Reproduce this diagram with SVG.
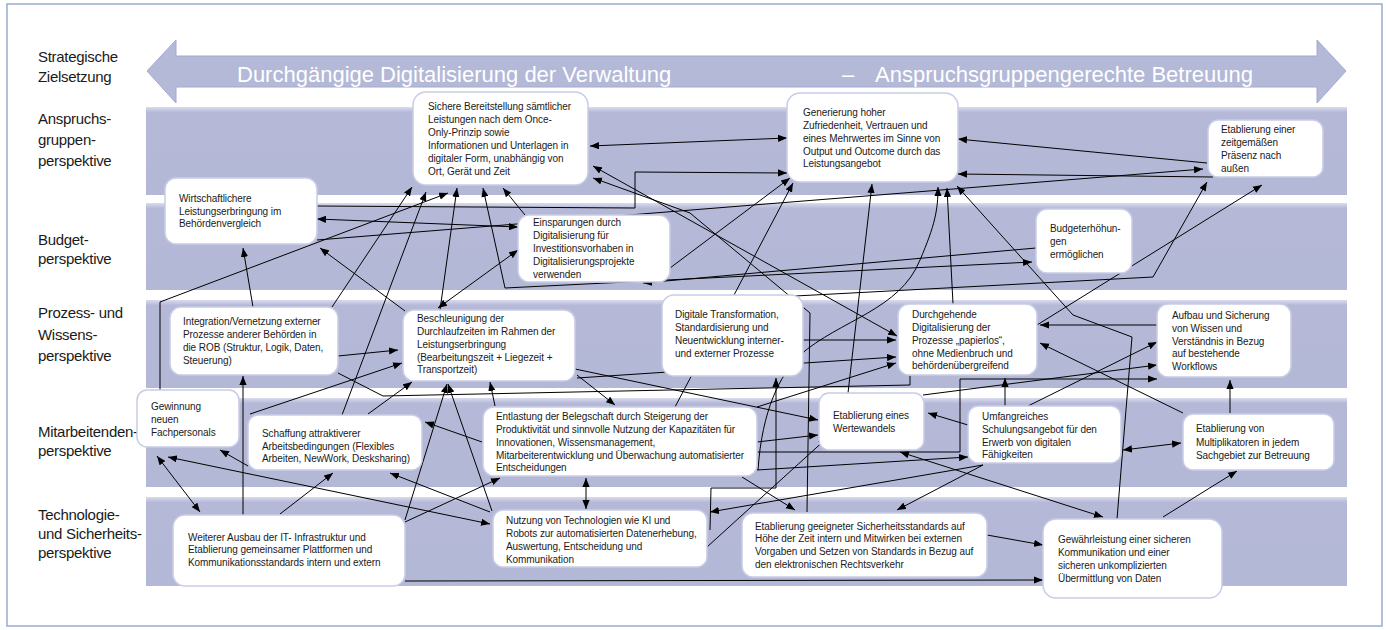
<svg xmlns="http://www.w3.org/2000/svg" width="1386" height="630" viewBox="0 0 1386 630">
<defs>
<marker id="ah" viewBox="0 0 10 8" refX="10" refY="4" markerWidth="9" markerHeight="7.5" markerUnits="userSpaceOnUse" orient="auto-start-reverse">
<path d="M0,0 L10,4 L0,8 z" fill="#000"/>
</marker>
<linearGradient id="lg" x1="0" y1="0" x2="0" y2="1">
<stop offset="0" stop-color="#d9dcee"/>
<stop offset="0.06" stop-color="#b5b9d7"/>
<stop offset="1" stop-color="#b3b8d6"/>
</linearGradient>
</defs>
<style>
.lane{fill:url(#lg);}
.lbl{font-family:"Liberation Sans",Arial,sans-serif;font-size:15px;fill:#1a1a1a;letter-spacing:-0.3px;}
.box{fill:#fff;stroke:#c9cce6;stroke-width:1.5;}
.t{font-family:"Liberation Sans",Arial,sans-serif;font-size:10px;fill:#1a1a1a;letter-spacing:-0.08px;}
.big{font-family:"Liberation Sans",Arial,sans-serif;font-size:22px;fill:#fff;}
.c{fill:none;stroke:#000;stroke-width:1;}
.e{marker-end:url(#ah);}
.b{marker-start:url(#ah);marker-end:url(#ah);}
</style>
<rect x="0" y="0" width="1386" height="630" fill="#fff"/>
<rect x="7" y="4" width="1375" height="622" fill="none" stroke="#97acce" stroke-width="1.5"/>

<g id="lanes">
<rect class="lane" x="146" y="107" width="1201" height="88"/>
<rect class="lane" x="146" y="203" width="1201" height="87"/>
<rect class="lane" x="146" y="300" width="1201" height="88"/>
<rect class="lane" x="146" y="398" width="1201" height="89"/>
<rect class="lane" x="146" y="497" width="1201" height="89"/>
</g>

<g id="goal">
<polygon points="147,71 176,40 176,56 1317,56 1317,40 1346,71 1317,103 1317,87 176,87 176,103" fill="#b4b9d7" stroke="#a4aad0" stroke-width="1"/>
<text class="big" x="237" y="82">Durchgängige Digitalisierung der Verwaltung</text>
<text class="big" x="842" y="82">–</text>
<text class="big" x="875" y="82">Anspruchsgruppengerechte Betreuung</text>
</g>

<g id="labels">
<text class="lbl" x="38" y="62">Strategische</text>
<text class="lbl" x="38" y="82">Zielsetzung</text>
<text class="lbl" x="38" y="124">Anspruchs-</text>
<text class="lbl" x="38" y="145">gruppen-</text>
<text class="lbl" x="38" y="166">perspektive</text>
<text class="lbl" x="38" y="245">Budget-</text>
<text class="lbl" x="38" y="264">perspektive</text>
<text class="lbl" x="38" y="318">Prozess- und</text>
<text class="lbl" x="38" y="340">Wissens-</text>
<text class="lbl" x="38" y="361">perspektive</text>
<text class="lbl" x="38" y="437">Mitarbeitenden-</text>
<text class="lbl" x="38" y="456">perspektive</text>
<text class="lbl" x="38" y="520">Technologie-</text>
<text class="lbl" x="38" y="539">und Sicherheits-</text>
<text class="lbl" x="38" y="558">perspektive</text>
</g>

<g id="connectors">
<path class="c b" d="M590,146 L787,138"/>
<path class="c e" d="M317,206 L635,208 L635,172 L787,173"/>
<path class="c b" d="M317,219 L518,227"/>
<path class="c e" d="M405,311 L320,248"/>
<path class="c e" d="M253,307 L243,248"/>
<path class="c e" d="M160,390 L160,302 L448,193"/>
<path class="c e" d="M243,515 L243,376"/>
<path class="c e" d="M338,356 L398,350"/>
<path class="c e" d="M250,414 L402,363"/>
<path class="c e" d="M248,466 L220,450"/>
<path class="c b" d="M200,512 L157,456"/>
<path class="c b" d="M168,457 L490,524"/>
<path class="c e" d="M280,514 L333,473"/>
<path class="c e" d="M490,512 L390,473"/>
<path class="c e" d="M482,442 L425,422"/>
<path class="c e" d="M405,520 L447,384"/>
<path class="c e" d="M492,511 L448,384"/>
<path class="c e" d="M368,414 L412,382"/>
<path class="c e" d="M405,522 L500,478"/>
<path class="c e" d="M495,406 L490,382"/>
<path class="c e" d="M577,375 L615,405"/>
<path class="c b" d="M586,478 L586,509"/>
<path class="c" d="M338,373 L383,396 L910,385 L910,376"/>
<path class="c e" d="M575,369 L818,420"/>
<path class="c e" d="M757,442 L818,435"/>
<path class="c e" d="M707,547 L827,438"/>
<path class="c e" d="M848,393 L872,184"/>
<path class="c e" d="M923,395 L1157,365"/>
<path class="c e" d="M968,425 L928,413"/>
<path class="c e" d="M757,452 L960,452 L960,379 L1157,379"/>
<path class="c e" d="M757,470 L968,457"/>
<path class="c e" d="M758,470 C762,410 780,375 800,355 C840,320 900,310 920,260 C935,225 938,210 938,187"/>
<path class="c e" d="M710,530 L711,488 L776,488 L776,378"/>
<path class="c b" d="M593,166 L897,336"/>
<path class="c e" d="M807,512 L810,313 L690,213 L593,178"/>
<path class="c e" d="M1207,163 L958,139"/>
<path class="c e" d="M1213,177 L958,174"/>
<path class="c e" d="M317,240 L1203,169"/>
<path class="c e" d="M1037,325 L1262,185"/>
<path class="c e" d="M795,296 L1153,277 L1207,182"/>
<path class="c e" d="M525,215 L503,188"/>
<path class="c b" d="M518,250 L438,308"/>
<path class="c e" d="M440,310 L457,188"/>
<path class="c e" d="M332,307 L412,187"/>
<path class="c e" d="M342,415 L426,192"/>
<path class="c b" d="M483,188 L505,288 L1032,262"/>
<path class="c e" d="M1036,248 L643,283"/>
<path class="c e" d="M953,304 L947,188"/>
<path class="c e" d="M1117,519 L1132,337 L1073,315 L957,186"/>
<path class="c e" d="M675,407 L793,183"/>
<path class="c e" d="M670,268 L790,178"/>
<path class="c e" d="M1157,325 L1040,325"/>
<path class="c e" d="M1183,413 L1040,343"/>
<path class="c e" d="M1230,413 L1230,380"/>
<path class="c b" d="M1123,450 L1181,443"/>
<path class="c e" d="M1163,517 L1237,471"/>
<path class="c e" d="M987,535 L1043,545"/>
<path class="c e" d="M405,581 L1043,580"/>
<path class="c b" d="M1103,517 L900,452"/>
<path class="c e" d="M983,465 L897,510"/>
<path class="c e" d="M983,465 L710,512"/>
<path class="c e" d="M742,477 L795,510"/>
<path class="c e" d="M1005,406 L1005,378"/>
<path class="c e" d="M1028,406 L1157,342"/>
<path class="c e" d="M803,340 L896,340"/>
<path class="c e" d="M577,378 L896,357"/>
<path class="c e" d="M757,407 L896,363"/>
</g>

<g id="nA">
<rect class="box" x="413" y="92" width="175" height="93" rx="13"/>
<text class="t" x="428" y="110">Sichere Bereitstellung sämtlicher</text>
<text class="t" x="428" y="123">Leistungen nach dem Once-</text>
<text class="t" x="428" y="136">Only-Prinzip sowie</text>
<text class="t" x="428" y="149">Informationen und Unterlagen in</text>
<text class="t" x="428" y="162">digitaler Form, unabhängig von</text>
<text class="t" x="428" y="175">Ort, Gerät und Zeit</text>
</g>
<g id="nB">
<rect class="box" x="787" y="93" width="171" height="89" rx="13"/>
<text class="t" x="803" y="116">Generierung hoher</text>
<text class="t" x="803" y="129">Zufriedenheit, Vertrauen und</text>
<text class="t" x="803" y="142">eines Mehrwertes im Sinne von</text>
<text class="t" x="803" y="155">Output und Outcome durch das</text>
<text class="t" x="803" y="167">Leistungsangebot</text>
</g>
<g id="nC">
<rect class="box" x="1208" y="120" width="115" height="57" rx="10"/>
<text class="t" x="1221" y="133">Etablierung einer</text>
<text class="t" x="1221" y="146">zeitgemäßen</text>
<text class="t" x="1221" y="159">Präsenz nach</text>
<text class="t" x="1221" y="172">außen</text>
</g>
<g id="nD">
<rect class="box" x="165" y="178" width="152" height="66" rx="11"/>
<text class="t" x="179" y="202">Wirtschaftlichere</text>
<text class="t" x="179" y="215">Leistungserbringung im</text>
<text class="t" x="179" y="227">Behördenvergleich</text>
</g>
<g id="nE">
<rect class="box" x="518" y="215" width="152" height="67" rx="11"/>
<text class="t" x="533" y="226">Einsparungen durch</text>
<text class="t" x="533" y="239">Digitalisierung für</text>
<text class="t" x="533" y="252">Investitionsvorhaben in</text>
<text class="t" x="533" y="265">Digitalisierungsprojekte</text>
<text class="t" x="533" y="278">verwenden</text>
</g>
<g id="nF">
<rect class="box" x="1036" y="209" width="96" height="64" rx="11"/>
<text class="t" x="1050" y="232">Budgeterhöhun-</text>
<text class="t" x="1050" y="245">gen</text>
<text class="t" x="1050" y="258">ermöglichen</text>
</g>
<g id="nG">
<rect class="box" x="170" y="307" width="168" height="68" rx="11"/>
<text class="t" x="183" y="325">Integration/Vernetzung externer</text>
<text class="t" x="183" y="338">Prozesse anderer Behörden in</text>
<text class="t" x="183" y="351">die ROB (Struktur, Logik, Daten,</text>
<text class="t" x="183" y="364">Steuerung)</text>
</g>
<g id="nH">
<rect class="box" x="403" y="310" width="172" height="71" rx="11"/>
<text class="t" x="417" y="322">Beschleunigung der</text>
<text class="t" x="417" y="335">Durchlaufzeiten im Rahmen der</text>
<text class="t" x="417" y="348">Leistungserbringung</text>
<text class="t" x="417" y="361">(Bearbeitungszeit + Liegezeit +</text>
<text class="t" x="417" y="373">Transportzeit)</text>
</g>
<g id="nI">
<rect class="box" x="662" y="295" width="141" height="81" rx="12"/>
<text class="t" x="675" y="318">Digitale Transformation,</text>
<text class="t" x="675" y="331">Standardisierung und</text>
<text class="t" x="675" y="344">Neuentwicklung interner-</text>
<text class="t" x="675" y="357">und externer Prozesse</text>
</g>
<g id="nJ">
<rect class="box" x="898" y="304" width="139" height="71" rx="11"/>
<text class="t" x="912" y="318">Durchgehende</text>
<text class="t" x="912" y="331">Digitalisierung der</text>
<text class="t" x="912" y="344">Prozesse „papierlos“,</text>
<text class="t" x="912" y="357">ohne Medienbruch und</text>
<text class="t" x="912" y="369">behördenübergreifend</text>
</g>
<g id="nK">
<rect class="box" x="1157" y="304" width="134" height="73" rx="11"/>
<text class="t" x="1172" y="319">Aufbau und Sicherung</text>
<text class="t" x="1172" y="332">von Wissen und</text>
<text class="t" x="1172" y="345">Verständnis in Bezug</text>
<text class="t" x="1172" y="357">auf bestehende</text>
<text class="t" x="1172" y="370">Workflows</text>
</g>
<g id="nL">
<rect class="box" x="137" y="390" width="102" height="57" rx="10"/>
<text class="t" x="151" y="410">Gewinnung</text>
<text class="t" x="151" y="423">neuen</text>
<text class="t" x="151" y="436">Fachpersonals</text>
</g>
<g id="nM">
<rect class="box" x="248" y="415" width="174" height="55" rx="10"/>
<text class="t" x="262" y="437">Schaffung attraktiverer</text>
<text class="t" x="262" y="450">Arbeitsbedingungen (Flexibles</text>
<text class="t" x="262" y="462">Arbeiten, NewWork, Desksharing)</text>
</g>
<g id="nN">
<rect class="box" x="483" y="407" width="274" height="69" rx="11"/>
<text class="t" x="496" y="420">Entlastung der Belegschaft durch Steigerung der</text>
<text class="t" x="496" y="433">Produktivität und sinnvolle Nutzung der Kapazitäten für</text>
<text class="t" x="496" y="446">Innovationen, Wissensmanagement,</text>
<text class="t" x="496" y="459">Mitarbeiterentwicklung und Überwachung automatisierter</text>
<text class="t" x="496" y="471">Entscheidungen</text>
</g>
<g id="nO">
<rect class="box" x="819" y="393" width="105" height="57" rx="10"/>
<text class="t" x="833" y="419">Etablierung eines</text>
<text class="t" x="833" y="432">Wertewandels</text>
</g>
<g id="nP">
<rect class="box" x="968" y="406" width="153" height="57" rx="10"/>
<text class="t" x="982" y="420">Umfangreiches</text>
<text class="t" x="982" y="433">Schulungsangebot für den</text>
<text class="t" x="982" y="446">Erwerb von digitalen</text>
<text class="t" x="982" y="458">Fähigkeiten</text>
</g>
<g id="nQ">
<rect class="box" x="1183" y="414" width="151" height="56" rx="10"/>
<text class="t" x="1196" y="432">Etablierung von</text>
<text class="t" x="1196" y="446">Multiplikatoren in jedem</text>
<text class="t" x="1196" y="459">Sachgebiet zur Betreuung</text>
</g>
<g id="nR">
<rect class="box" x="173" y="515" width="232" height="71" rx="12"/>
<text class="t" x="188" y="541">Weiterer Ausbau der IT- Infrastruktur und</text>
<text class="t" x="188" y="553">Etablierung gemeinsamer Plattformen und</text>
<text class="t" x="188" y="566">Kommunikationsstandards intern und extern</text>
</g>
<g id="nS">
<rect class="box" x="493" y="510" width="214" height="57" rx="10"/>
<text class="t" x="506" y="524">Nutzung von Technologien wie KI und</text>
<text class="t" x="506" y="537">Robots zur automatisierten Datenerhebung,</text>
<text class="t" x="506" y="550">Auswertung, Entscheidung und</text>
<text class="t" x="506" y="563">Kommunikation</text>
</g>
<g id="nT">
<rect class="box" x="742" y="513" width="245" height="64" rx="11"/>
<text class="t" x="755" y="530">Etablierung geeigneter Sicherheitsstandards auf</text>
<text class="t" x="755" y="542">Höhe der Zeit intern und Mitwirken bei externen</text>
<text class="t" x="755" y="555">Vorgaben und Setzen von Standards in Bezug auf</text>
<text class="t" x="755" y="568">den elektronischen Rechtsverkehr</text>
</g>
<g id="nU">
<rect class="box" x="1043" y="519" width="179" height="79" rx="13"/>
<text class="t" x="1058" y="543">Gewährleistung einer sicheren</text>
<text class="t" x="1058" y="556">Kommunikation und einer</text>
<text class="t" x="1058" y="569">sicheren unkomplizierten</text>
<text class="t" x="1058" y="582">Übermittlung von Daten</text>
</g>
</svg>
